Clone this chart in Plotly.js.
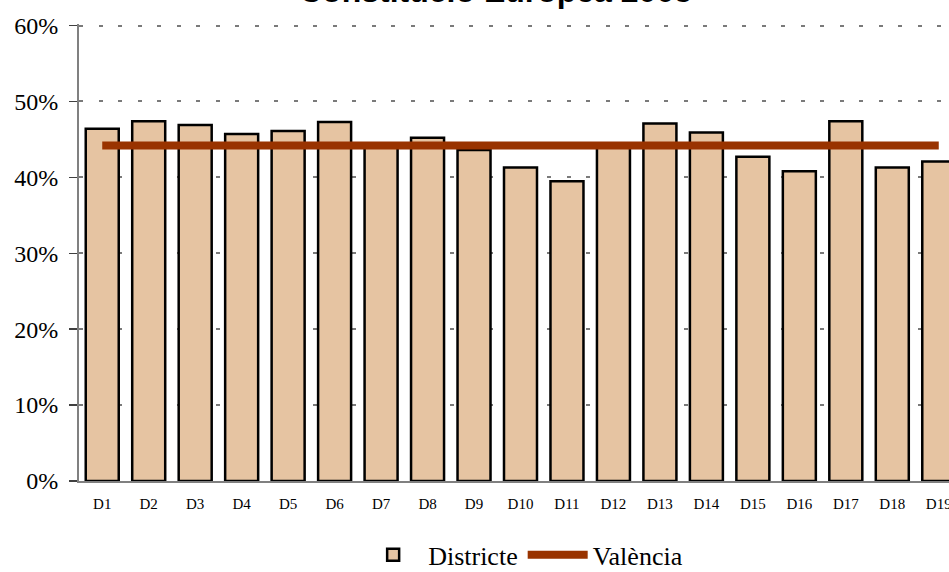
<!DOCTYPE html>
<html>
<head>
<meta charset="utf-8">
<script src="https://cdn.plot.ly/plotly-3.0.1.min.js"></script>
<style>
html,body{margin:0;padding:0;overflow:hidden;background:#fff;width:949px;height:572px;}
#chart{width:980px;height:572px;}
</style>
</head>
<body>
<div id="chart"></div>
<script>
const chartTitle = "Constitució Europea 2005";
const categories = ["D1","D2","D3","D4","D5","D6","D7","D8","D9","D10","D11","D12","D13","D14","D15","D16","D17","D18","D19"];
const districte = [0.464,0.474,0.469,0.457,0.461,0.473,0.443,0.452,0.436,0.413,0.395,0.443,0.471,0.459,0.427,0.408,0.474,0.413,0.421];
const valencia = [0.442,0.442,0.442,0.442,0.442,0.442,0.442,0.442,0.442,0.442,0.442,0.442,0.442,0.442,0.442,0.442,0.442,0.442,0.442];
const yTicks = [0,0.1,0.2,0.3,0.4,0.5,0.6];
const yTickLabels = ["0%","10%","20%","30%","40%","50%","60%"];

const traces = [
  {
    type: "bar", name: "Districte", x: categories, y: districte,
    marker: {color: "#E6C4A2", line: {color: "#000000", width: 2.5}},
    hoverinfo: "none"
  },
  {
    type: "scatter", mode: "lines", name: "València", x: categories, y: valencia,
    line: {color: "#993300", width: 8},
    hoverinfo: "none"
  }
];

const layout = {
  width: 980, height: 572,
  margin: {l: 79, r: 18, t: 24, b: 91, autoexpand: false},
  paper_bgcolor: "#ffffff", plot_bgcolor: "#ffffff",
  bargap: 0.29,
  showlegend: true,
  annotations: [{
    text: chartTitle, showarrow: false,
    font: {family: "Liberation Sans, Arial, sans-serif", size: 32, color: "#000000", weight: "bold"},
    xref: "paper", x: 0.472, xanchor: "center",
    yref: "paper", y: 1, yanchor: "middle", yshift: 33
  }],
  xaxis: {
    type: "category", automargin: false,
    showline: true, linecolor: "#808080", linewidth: 2,
    showgrid: false, zeroline: false,
    ticks: "outside", ticklen: 8, tickcolor: "rgba(0,0,0,0)",
    tickfont: {family: "Liberation Serif, Times New Roman, serif", size: 15, color: "#000000"},
    fixedrange: true
  },
  yaxis: {
    range: [0, 0.602], automargin: false,
    tickvals: yTicks, ticktext: yTickLabels,
    showline: true, linecolor: "#808080", linewidth: 2,
    ticks: "outside", ticklen: 8, tickcolor: "#404040", tickwidth: 1.5,
    ticklabelstandoff: 6,
    showgrid: true, gridcolor: "#7a7a7a", gridwidth: 2, griddash: "4px,15.5px",
    zeroline: false,
    tickfont: {family: "Liberation Serif, Times New Roman, serif", size: 24, color: "#000000"},
    fixedrange: true
  },
  legend: {
    orientation: "h",
    xref: "paper", x: 0.503, xanchor: "center",
    yref: "container", y: 0.03, yanchor: "middle",
    font: {family: "Liberation Serif, Times New Roman, serif", size: 26, color: "#000000"},
    itemwidth: 60,
    bgcolor: "rgba(0,0,0,0)"
  }
};

Plotly.newPlot("chart", traces, layout, {displayModeBar: false, staticPlot: true});
</script>
</body>
</html>
